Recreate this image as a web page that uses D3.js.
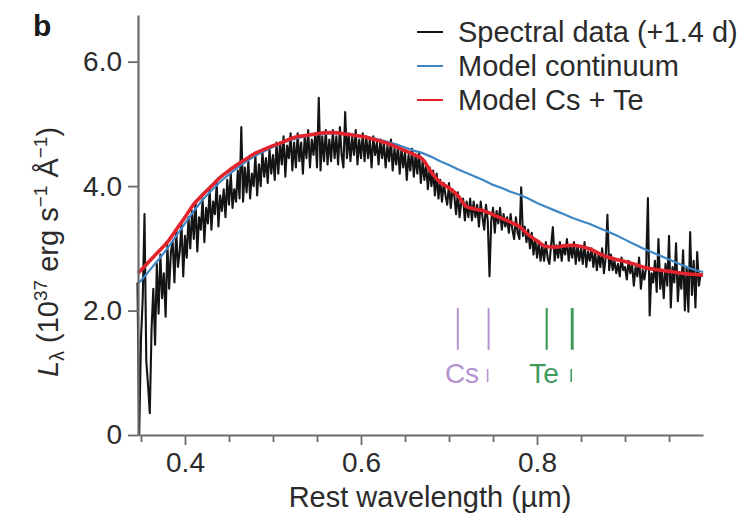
<!DOCTYPE html>
<html>
<head>
<meta charset="utf-8">
<script src="https://cdn.jsdelivr.net/npm/d3@7"></script>
<style>
  html, body { margin: 0; padding: 0; background: #fff; }
  svg { display: block; font-family: "Liberation Sans", Arial, Helvetica, sans-serif; }
</style>
</head>
<body>
<svg id="chart" width="756" height="517"></svg>
<script>
// Observed spectrum: regular wavelength grid (µm) and luminosity (1e37 erg/s/Å)
const spectrumStart = 0.346;
const spectrumStep = 0.002;
const spectrumFlux = [
  2.45, 0.02, 1.55, 2.20, 3.55, 1.20, 0.80, 0.35, 1.70, 2.35,
  1.45, 2.75, 1.95, 2.90, 2.20, 2.60, 1.90, 3.05, 2.35, 2.95,
  3.10, 2.45, 3.30, 2.70, 2.95, 3.40, 2.55, 3.20, 2.85, 3.50,
  3.00, 3.60, 3.15, 3.75, 2.95, 3.50, 3.30, 3.80, 3.10, 3.65,
  3.40, 3.95, 3.30, 3.75, 3.55, 4.05, 3.35, 3.85, 3.60, 3.95,
  3.50, 4.10, 3.70, 4.20, 3.65, 3.95, 3.75, 4.25, 3.80, 4.95,
  3.75, 4.30, 3.90, 4.40, 3.80, 4.20, 4.00, 4.50, 3.85, 4.35,
  4.00, 4.55, 4.15, 4.45, 4.05, 4.60, 4.20, 4.50, 4.10, 4.70,
  4.20, 4.70, 4.35, 4.80, 4.15, 4.65, 4.45, 4.85, 4.25, 4.70,
  4.30, 4.85, 4.40, 4.70, 4.20, 4.80, 4.45, 4.90, 4.30, 4.75,
  4.50, 4.85, 4.30, 5.42, 4.25, 4.80, 4.40, 4.90, 4.35, 4.75,
  4.40, 4.90, 4.45, 4.80, 4.35, 4.95, 4.50, 4.30, 5.19, 4.45,
  4.85, 4.40, 4.80, 4.50, 4.90, 4.35, 4.75, 4.45, 4.85, 4.40,
  4.80, 4.45, 4.75, 4.30, 4.80, 4.50, 4.70, 4.35, 4.75, 4.45,
  4.70, 4.30, 4.65, 4.40, 4.75, 4.25, 4.60, 4.35, 4.65, 4.20,
  4.60, 4.30, 4.55, 4.10, 4.50, 4.25, 4.60, 4.15, 4.50, 4.20,
  4.55, 4.05, 4.40, 4.10, 4.35, 3.95, 4.30, 4.00, 4.25, 3.85,
  4.20, 3.80, 4.10, 3.75, 4.05, 3.85, 3.70, 4.05, 3.65, 3.95,
  3.85, 3.55, 3.90, 3.50, 3.75, 3.80, 3.45, 3.75, 3.50, 3.80,
  3.45, 3.75, 3.50, 3.70, 3.35, 3.75, 3.50, 3.30, 3.70, 3.45,
  2.55, 3.45, 3.65, 3.25, 3.60, 3.40, 3.65, 3.30, 3.55, 3.35,
  3.50, 3.25, 3.55, 3.30, 3.15, 3.50, 3.25, 3.15, 3.98, 3.20,
  3.35, 3.10, 3.30, 3.00, 3.25, 2.90, 3.15, 2.85, 3.10, 2.80,
  3.05, 2.80, 3.10, 2.85, 2.75, 3.05, 3.34, 2.80, 3.05, 2.85,
  3.10, 2.80, 3.05, 2.90, 3.15, 2.80, 3.05, 2.85, 3.10, 2.75,
  3.05, 2.80, 3.00, 2.75, 3.10, 2.70, 2.95, 2.80, 3.00, 2.70,
  2.95, 2.65, 2.90, 2.70, 3.00, 2.60, 2.85, 3.54, 2.65, 2.90,
  2.65, 2.80, 2.60, 2.75, 2.55, 2.85, 2.65, 2.70, 2.50, 2.80,
  2.60, 2.75, 2.40, 2.70, 2.55, 2.85, 2.35, 2.65, 2.50, 2.70,
  3.81, 1.92, 2.60, 2.45, 2.80, 2.30, 3.15, 2.35, 2.65, 2.20,
  2.75, 2.40, 3.20, 2.05, 2.70, 2.45, 3.08, 2.15, 2.60, 2.35,
  2.97, 2.00, 2.70, 1.98, 3.26, 2.25, 2.80, 2.05, 2.94, 2.40,
  2.60
];

// Model curves on a coarser wavelength grid (µm)
const modelLambda = [
  0.3466, 0.35, 0.36, 0.37, 0.38, 0.39, 0.40, 0.41, 0.42, 0.43, 0.44,
  0.45, 0.46, 0.47, 0.48, 0.49, 0.50, 0.51, 0.52, 0.53, 0.54,
  0.55, 0.56, 0.57, 0.58, 0.59, 0.60, 0.61, 0.62, 0.63, 0.64,
  0.65, 0.66, 0.67, 0.68, 0.69, 0.70, 0.71, 0.72, 0.73, 0.74,
  0.75, 0.76, 0.77, 0.78, 0.79, 0.80, 0.81, 0.82, 0.83, 0.84,
  0.85, 0.86, 0.87, 0.88, 0.89, 0.90, 0.91, 0.92, 0.93, 0.94,
  0.95, 0.96, 0.97, 0.98, 0.9886
];
const modelCsTe = [
  2.60, 2.65, 2.80, 2.95, 3.10, 3.30, 3.50, 3.71, 3.86, 4.00, 4.14,
  4.25, 4.35, 4.44, 4.53, 4.59, 4.65, 4.70, 4.76, 4.80, 4.82,
  4.84, 4.86, 4.86, 4.84, 4.82, 4.80, 4.77, 4.73, 4.69, 4.63,
  4.57, 4.51, 4.43, 4.22, 4.06, 3.97, 3.85, 3.67, 3.63, 3.60,
  3.54, 3.48, 3.42, 3.35, 3.22, 3.12, 3.03, 3.02, 3.04, 3.05,
  3.03, 2.99, 2.92, 2.86, 2.82, 2.79, 2.75, 2.70, 2.67, 2.65,
  2.63, 2.61, 2.59, 2.58, 2.57
];
const modelContinuum = [
  2.44, 2.48, 2.65, 2.82, 3.00, 3.20, 3.40, 3.60, 3.78, 3.93, 4.07,
  4.19, 4.30, 4.40, 4.49, 4.56, 4.63, 4.69, 4.74, 4.78, 4.81,
  4.83, 4.84, 4.85, 4.84, 4.83, 4.81, 4.78, 4.75, 4.71, 4.67,
  4.62, 4.57, 4.53, 4.47, 4.40, 4.34, 4.27, 4.21, 4.15, 4.09,
  4.02, 3.97, 3.91, 3.86, 3.80, 3.73, 3.67, 3.61, 3.55, 3.49,
  3.44, 3.39, 3.33, 3.27, 3.21, 3.14, 3.07, 3.00, 2.94, 2.88,
  2.82, 2.76, 2.70, 2.65, 2.62
];

// Line identifications (µm)
const csLines = [0.710, 0.745];
const teLines = [0.811, 0.840];

// Axis ticks
const xTickValues = [0.35, 0.40, 0.45, 0.50, 0.55, 0.60, 0.65, 0.70, 0.75, 0.80, 0.85, 0.90, 0.95];
const xLabelledTicks = [0.40, 0.60, 0.80];
const yTickValues = [0, 2, 4, 6];
const yTickLabels = ["0", "2.0", "4.0", "6.0"];

const legendLabels = ["Spectral data (+1.4 d)", "Model continuum", "Model Cs + Te"];

// ---------------------------------------------------------------
const colors = {
  data: "#141414",
  continuum: "#3f86c4",
  model: "#e3232c",
  axis: "#6a6a6a",
  text: "#2b2b2b",
  cs: "#b593d3",
  te: "#3f9a5e"
};

const svg = d3.select("#chart");

const x = d3.scaleLinear().domain([0.3466, 0.9886]).range([138, 703]);
const y = d3.scaleLinear().domain([0, 6.75]).range([435, 15]);

const spectrum = spectrumFlux.map((v, i) => ({ lam: spectrumStart + i * spectrumStep, v }));
const modelA = modelLambda.map((l, i) => ({ lam: l, v: modelCsTe[i] }));
const modelB = modelLambda.map((l, i) => ({ lam: l, v: modelContinuum[i] }));

const line = d3.line().x(d => x(d.lam)).y(d => y(d.v));

// Spectrum, continuum, Cs+Te model
svg.append("path").datum(spectrum)
  .attr("d", line).attr("fill", "none")
  .attr("stroke", colors.data).attr("stroke-width", 2.1).attr("stroke-linejoin", "round");

svg.append("path").datum(modelB)
  .attr("d", line).attr("fill", "none")
  .attr("stroke", colors.continuum).attr("stroke-width", 2.2);

svg.append("path").datum(modelA)
  .attr("d", line.curve(d3.curveMonotoneX)).attr("fill", "none")
  .attr("stroke", colors.model).attr("stroke-width", 3.6).attr("stroke-linejoin", "round");

// Axes
const yAxis = d3.axisLeft(y)
  .tickValues(yTickValues)
  .tickFormat((d, i) => yTickLabels[i])
  .tickSize(10).tickSizeOuter(0).tickPadding(6);

const gy = svg.append("g").attr("transform", "translate(138,0)").call(yAxis);

const xAxis = d3.axisBottom(x)
  .tickValues(xTickValues)
  .tickFormat(d => xLabelledTicks.some(t => Math.abs(t - d) < 1e-9) ? d3.format(".1f")(d) : "")
  .tickSize(7).tickSizeOuter(0).tickPadding(10);

const gx = svg.append("g").attr("transform", "translate(0,435)").call(xAxis);
gx.selectAll(".tick line")
  .attr("y2", d => xLabelledTicks.some(t => Math.abs(t - d) < 1e-9) ? 10 : 7);

[gx, gy].forEach(g => {
  g.select(".domain").attr("stroke", colors.axis).attr("stroke-width", 2.2);
  g.selectAll(".tick line").attr("stroke", colors.axis).attr("stroke-width", 1.8);
  g.selectAll(".tick text")
    .attr("fill", colors.text)
    .style("font-size", "28px")
    .style("font-family", "'Liberation Sans', Arial, sans-serif");
});

// Axis titles
svg.append("text")
  .attr("x", 430).attr("y", 507)
  .attr("text-anchor", "middle")
  .attr("fill", colors.text)
  .style("font-size", "29px")
  .text("Rest wavelength (\u00b5m)");

const yt = svg.append("text")
  .attr("transform", "translate(58,252) rotate(-90)")
  .attr("text-anchor", "middle")
  .attr("fill", colors.text)
  .style("font-size", "29px");
yt.append("tspan").style("font-style", "italic").text("L");
yt.append("tspan").attr("dy", 6).style("font-size", "20px").text("\u03bb");
yt.append("tspan").attr("dy", -6).text(" (10");
yt.append("tspan").attr("dy", -11).style("font-size", "19px").text("37");
yt.append("tspan").attr("dy", 11).text(" erg s");
yt.append("tspan").attr("dy", -11).style("font-size", "19px").text("\u22121");
yt.append("tspan").attr("dy", 11).text(" \u00c5");
yt.append("tspan").attr("dy", -11).style("font-size", "19px").text("\u22121");
yt.append("tspan").attr("dy", 11).text(")");

// Panel letter
svg.append("text")
  .attr("x", 33).attr("y", 36)
  .attr("fill", "#1a1a1a")
  .style("font-size", "30px").style("font-weight", "bold")
  .text("b");

// Legend
const legendColors = [colors.data, colors.continuum, colors.model];
const legend = svg.append("g");
legendLabels.forEach((label, i) => {
  const cy = 32 + i * 34;
  legend.append("line")
    .attr("x1", 417).attr("x2", 443).attr("y1", cy).attr("y2", cy)
    .attr("stroke", legendColors[i]).attr("stroke-width", 2);
  legend.append("text")
    .attr("x", 458).attr("y", cy + 10)
    .attr("fill", colors.text)
    .style("font-size", "29px")
    .text(label);
});

// Line identification markers
const markTop = y(2.04), markBottom = y(1.37);
const idGroups = [
  { name: "Cs", lines: csLines, color: colors.cs, labelX: 462, widths: [2, 2] },
  { name: "Te", lines: teLines, color: colors.te, labelX: 544, widths: [2.2, 3] }
];
idGroups.forEach(g => {
  g.lines.forEach((l, j) => {
    svg.append("line")
      .attr("x1", x(l)).attr("x2", x(l))
      .attr("y1", markTop).attr("y2", markBottom)
      .attr("stroke", g.color).attr("stroke-width", g.widths[j]);
  });
  svg.append("text")
    .attr("x", g.labelX).attr("y", 383)
    .attr("text-anchor", "middle")
    .attr("fill", g.color)
    .style("font-size", "28px")
    .text(g.name);
  const l2 = g.lines[1];
  svg.append("line")
    .attr("x1", x(l2) - 1).attr("x2", x(l2) - 1)
    .attr("y1", 369).attr("y2", 382)
    .attr("stroke", g.color).attr("stroke-width", 1.6);
});
</script>
</body>
</html>
